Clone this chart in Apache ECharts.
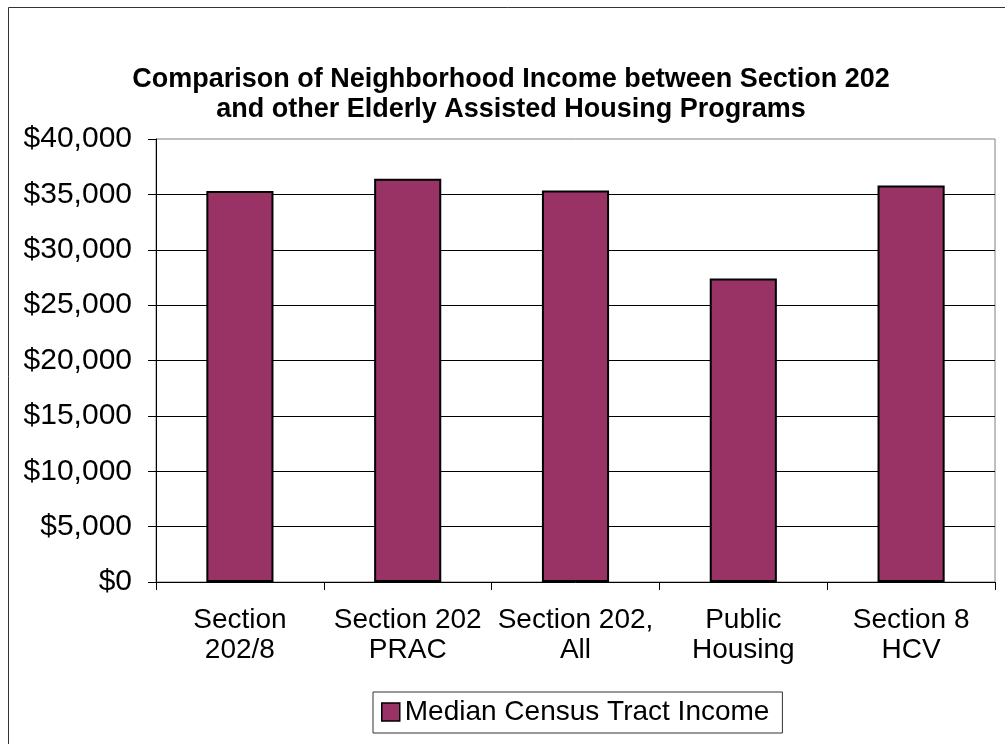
<!DOCTYPE html>
<html>
<head>
<meta charset="utf-8">
<script src="https://cdn.jsdelivr.net/npm/echarts@6/dist/echarts.min.js"></script>
<style>
  html, body { margin: 0; padding: 0; background: #fff; }
  #chart { width: 1005px; height: 744px; }
</style>
</head>
<body>
<div id="chart"></div>
<script>
const categories = ['Section\n202/8', 'Section 202\nPRAC', 'Section 202,\nAll', 'Public\nHousing', 'Section 8\nHCV'];
const seriesName = 'Median Census Tract Income';
const incomeValues = [35300, 36400, 35350, 27400, 35800];
const yTicks = { min: 0, max: 40000, interval: 5000 };
const titleLines = ['Comparison of Neighborhood Income between Section 202', 'and other Elderly Assisted Housing Programs'];

const FONT = '"Liberation Sans", Arial, sans-serif';
const chart = echarts.init(document.getElementById('chart'), null, { renderer: 'canvas' });
chart.setOption({
  animation: false,
  backgroundColor: '#fff',
  graphic: [{
    type: 'rect',
    shape: { x: 8.5, y: 7.5, width: 1100, height: 800 },
    style: { fill: 'none', stroke: '#333', lineWidth: 1 },
    silent: true, z: 100
  }, {
    type: 'text',
    x: 511, y: 94.5,
    style: {
      text: titleLines.join('\n'),
      fontFamily: FONT, fontSize: 27, fontWeight: 'bold', fill: '#000',
      lineHeight: 30, align: 'center', verticalAlign: 'middle'
    },
    silent: true
  }],
  grid: {
    left: 156, right: 10, top: 139, bottom: 162,
    show: true, borderColor: '#808080', borderWidth: 1, backgroundColor: '#fff'
  },
  legend: {
    left: 373, top: 692,
    padding: [6, 13, 7, 8],
    borderColor: '#333', borderWidth: 1,
    itemWidth: 18, itemHeight: 18,
    icon: 'rect',
    itemStyle: { color: '#993366', borderColor: '#000', borderWidth: 1.5 },
    textStyle: { fontFamily: FONT, fontSize: 28, color: '#000' },
    data: [seriesName]
  },
  xAxis: {
    type: 'category',
    data: categories,
    boundaryGap: true,
    axisLine: { lineStyle: { color: '#000', width: 1 } },
    axisTick: { show: true, length: 8, lineStyle: { color: '#000' } },
    axisLabel: { interval: 0, margin: 23, fontFamily: FONT, fontSize: 28, color: '#000', lineHeight: 30 }
  },
  yAxis: {
    type: 'value',
    min: yTicks.min, max: yTicks.max, interval: yTicks.interval,
    axisLine: { show: true, lineStyle: { color: '#000', width: 1 } },
    axisTick: { show: true, length: 8, lineStyle: { color: '#000' } },
    axisLabel: {
      margin: 24, fontFamily: FONT, fontSize: 30, color: '#000',
      formatter: v => '$' + v.toLocaleString('en-US')
    },
    splitLine: { show: true, showMaxLine: false, showMinLine: false, lineStyle: { color: '#000', width: 1 } }
  },
  series: [{
    name: seriesName,
    type: 'bar',
    data: incomeValues,
    barWidth: '40%',
    itemStyle: { color: '#993366', borderColor: '#000', borderWidth: 2 }
  }]
});
</script>
</body>
</html>
